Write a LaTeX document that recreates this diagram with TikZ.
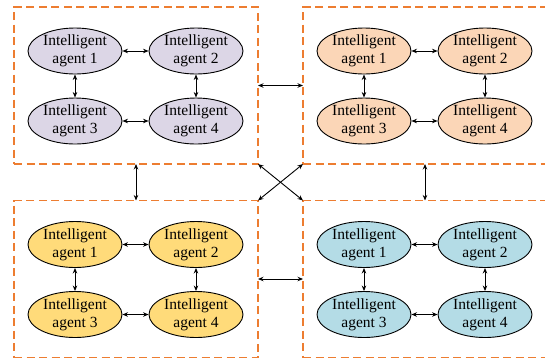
\documentclass[tikz,border=0pt]{standalone}
\usepackage{fontspec}
\setmainfont{Liberation Serif}
\usetikzlibrary{shapes.geometric,arrows.meta}
\definecolor{dashorange}{RGB}{237,125,49}
\definecolor{lavender}{RGB}{220,214,230}
\definecolor{peach}{RGB}{251,214,183}
\definecolor{sunyellow}{RGB}{255,219,122}
\definecolor{skyblue}{RGB}{180,220,230}
\tikzset{
  grp/.style={draw=dashorange,line width=1.5pt,dash pattern=on 8pt off 4.5pt,
    minimum width=244pt,minimum height=157pt,inner sep=0pt,outer sep=0pt},
  agent/.style={ellipse,draw=black,line width=0.9pt,minimum width=94pt,minimum height=46pt,
    inner sep=0pt,align=center,font=\fontsize{15.5}{18}\selectfont,text=black},
  biarrow/.style={line width=0.9pt,{Stealth[length=5.5pt,width=4.5pt]}-{Stealth[length=5.5pt,width=4.5pt]}}
}
\newcommand\myblock[4]{%
  \node[grp] (#1) at (#2,#3) {};
  \node[agent,fill=#4] (#1a) at (#2-61,#3-34.5) {Intelligent\\agent 1};
  \node[agent,fill=#4] (#1b) at (#2+60,#3-34.5) {Intelligent\\agent 2};
  \node[agent,fill=#4] (#1c) at (#2-61,#3+35.5) {Intelligent\\agent 3};
  \node[agent,fill=#4] (#1d) at (#2+60,#3+35.5) {Intelligent\\agent 4};
  \draw[biarrow] (#1a) -- (#1b);
  \draw[biarrow] (#1c) -- (#1d);
  \draw[biarrow] (#1a) -- (#1c);
  \draw[biarrow] (#1b) -- (#1d);
}
\begin{document}
\begin{tikzpicture}[x=1pt,y=-1pt]
\useasboundingbox (0,0) rectangle (545,360);
\clip (0,0) rectangle (545,360);
\myblock{TL}{136}{85.5}{lavender}
\myblock{TR}{425}{85.5}{peach}
\myblock{BL}{136}{279}{sunyellow}
\myblock{BR}{425}{279}{skyblue}
\draw[biarrow] (TL.east) -- (TR.west);
\draw[biarrow] (BL.east) -- (BR.west);
\draw[biarrow] (TL.south) -- (BL.north);
\draw[biarrow] (TR.south) -- (BR.north);
\draw[biarrow] (TL.south east) -- (BR.north west);
\draw[biarrow] (TR.south west) -- (BL.north east);
\end{tikzpicture}
\end{document}
